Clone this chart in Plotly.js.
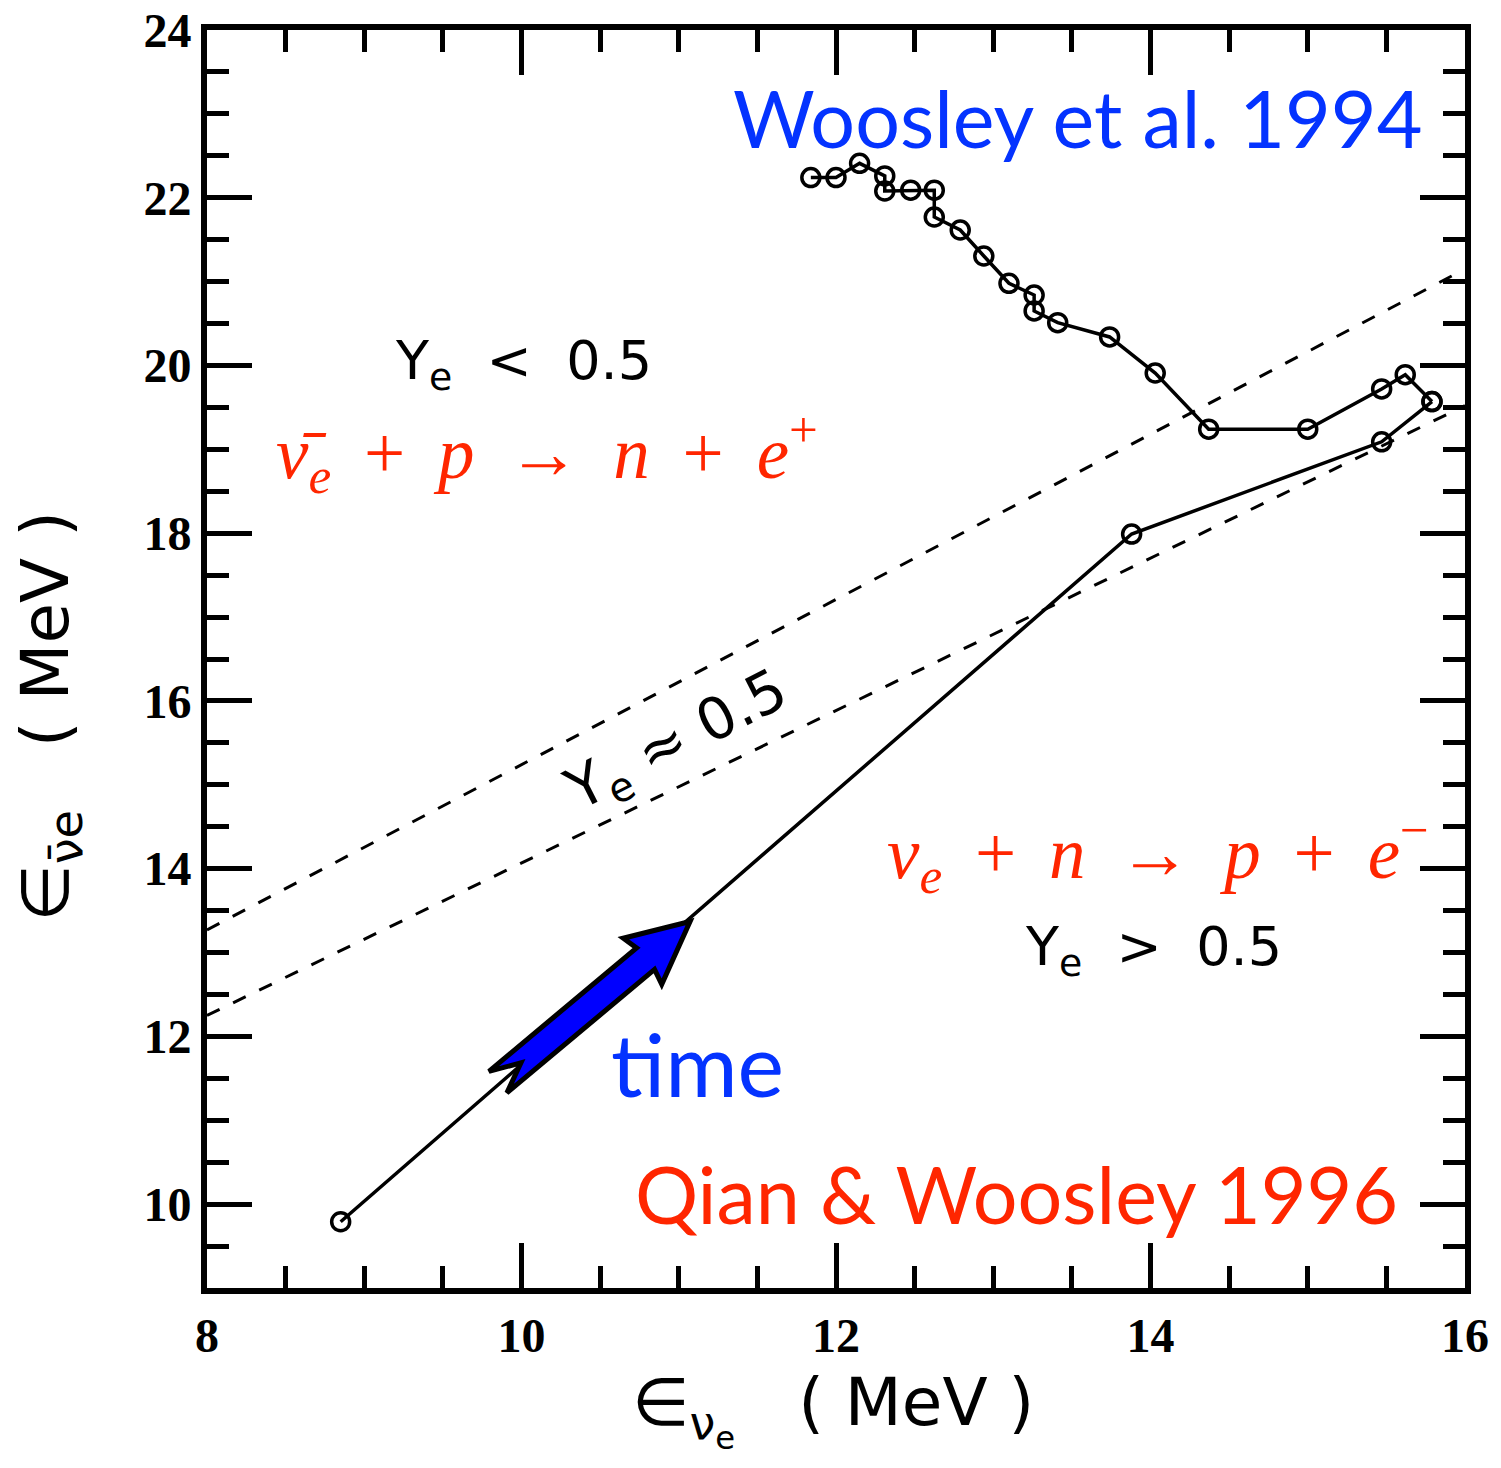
<!DOCTYPE html>
<html>
<head>
<meta charset="utf-8">
<script src="https://cdn.plot.ly/plotly-3.0.1.min.js"></script>
<style>
  html, body { margin: 0; padding: 0; background: #ffffff; }
  #chart { width: 1501px; height: 1468px; }
</style>
</head>
<body>
<div id="chart"></div>
<script>
// Mean electron-neutrino / antineutrino energies (MeV) along each wind trajectory
const woosley94Enu    = [11.84, 12.00, 12.15, 12.31, 12.31, 12.475, 12.625, 12.625, 12.79, 12.94, 13.10, 13.26, 13.26, 13.41, 13.74, 14.03, 14.37, 15.00, 15.47, 15.62, 15.79];
const woosley94Enubar = [22.24, 22.24, 22.41, 22.26, 22.08, 22.09, 22.09, 21.77, 21.615, 21.305, 20.98, 20.84, 20.65, 20.51, 20.34, 19.91, 19.24, 19.24, 19.72, 19.89, 19.57];
const qian96Enu       = [8.85, 13.88, 15.47, 15.79];
const qian96Enubar    = [9.79, 17.99, 19.09, 19.57];

// Edges of the Ye ~ 0.5 band
const bandEnu   = [8, 16];
const bandUpper = [13.27, 21.15];
const bandLower = [12.25, 19.52];

// Axis ticks
const xTickVals = [8, 10, 12, 14, 16];
const yTickVals = [10, 12, 14, 16, 18, 20, 22, 24];

const X_RANGE = [8, 16];
const Y_RANGE = [9, 24];
const W = 1501, H = 1468;
const M = { l: 207, r: 36, t: 30, b: 180 };
const plotW = W - M.l - M.r, plotH = H - M.t - M.b;
const pxPerX = plotW / (X_RANGE[1] - X_RANGE[0]);
const pxPerY = plotH / (Y_RANGE[1] - Y_RANGE[0]);

// Block arrow ("time") between two points given in axis units
function blockArrowPath(from, to) {
  const dx = (to[0] - from[0]) * pxPerX;
  const dy = -(to[1] - from[1]) * pxPerY;
  const L = Math.hypot(dx, dy);
  const ux = dx / L, uy = dy / L;   // along the arrow (screen px)
  const nx = -uy, ny = ux;          // perpendicular
  const pts = [
    [0, -14], [30, 0], [0, 14],
    [L - 58, 14], [L - 62, 30], [L, 0], [L - 62, -30], [L - 58, -14]
  ];
  return pts.map((p, i) => {
    const sx = p[0] * ux + p[1] * nx;
    const sy = p[0] * uy + p[1] * ny;
    const x = from[0] + sx / pxPerX;
    const y = from[1] - sy / pxPerY;
    return (i ? 'L' : 'M') + x.toFixed(4) + ',' + y.toFixed(4);
  }).join(' ') + ' Z';
}
const timeArrowFrom = [9.85, 11.455];
const timeArrowTo   = [11.072, 13.37];

const markerStyle = { symbol: 'circle-open', size: 18, color: '#000', line: { width: 3.5, color: '#000' } };

const traces = [
  { x: bandEnu, y: bandUpper, mode: 'lines', line: { color: '#000', width: 3, dash: '14px,15px' }, hoverinfo: 'skip' },
  { x: bandEnu, y: bandLower, mode: 'lines', line: { color: '#000', width: 3, dash: '14px,15px' }, hoverinfo: 'skip' },
  { x: qian96Enu, y: qian96Enubar, mode: 'lines+markers', line: { color: '#000', width: 3.5 }, marker: markerStyle, name: 'Qian & Woosley 1996' },
  { x: woosley94Enu, y: woosley94Enubar, mode: 'lines+markers', line: { color: '#000', width: 3.5 }, marker: markerStyle, name: 'Woosley et al. 1994' }
];

const axisCommon = {
  showgrid: false, zeroline: false,
  showline: true, linewidth: 6, linecolor: '#000',
  mirror: 'ticks',
  ticks: 'inside', ticklen: 45, tickwidth: 5, tickcolor: '#000',
  minor: { dtick: 0.5, ticks: 'inside', ticklen: 22, tickwidth: 5, tickcolor: '#000' },
  tickfont: { family: 'Liberation Serif', size: 48, weight: 'bold', color: '#000' }
};

const hershey = 'DejaVu Sans';
const mathFont = 'Liberation Serif';
const blue = '#0433ff', red = '#ff2600';
const sp = ' \u2009';   // operator spacing in the reactions

const annotations = [
  { x: 13.54, y: 22.96, text: 'Woosley et al. 1994', font: { family: 'Lato', size: 79, color: blue } },
  { x: 13.145, y: 10.13, text: 'Qian &amp; Woosley 1996', font: { family: 'Lato', size: 79, color: red } },
  { x: 11.122, y: 11.68, text: 'time', font: { family: 'Lato', size: 88, color: blue } },
  { x: 10.01, y: 20.02, text: 'Y<sub>e</sub>  &lt;  0.5', font: { family: hershey, size: 54, color: '#000' } },
  { x: 14.016, y: 13.03, text: 'Y<sub>e</sub>  &gt;  0.5', font: { family: hershey, size: 54, color: '#000' } },
  { x: 10.99, y: 15.50, text: 'Y<sub>e</sub> ≈ 0.5', textangle: -27, font: { family: hershey, size: 58, color: '#000' } },
  { x: 10.162, y: 18.96, text: '<i>ν̄</i><sub><i>e</i></sub>' + sp + '+' + sp + '<i>p</i>' + sp + '→' + sp + '<i>n</i>' + sp + '+' + sp + '<i>e</i><sup>+</sup>', font: { family: mathFont, size: 73, color: red } },
  { x: 14.048, y: 14.19, text: '<i>ν</i><sub><i>e</i></sub>' + sp + '+' + sp + '<i>n</i>' + sp + '→' + sp + '<i>p</i>' + sp + '+' + sp + '<i>e</i><sup>−</sup>', font: { family: mathFont, size: 73, color: red } },
  // axis titles
  { xref: 'paper', yref: 'paper', x: 0.4976, y: -0.097, text: '∈<sub>ν<sub>e</sub></sub>   ( MeV )', font: { family: hershey, size: 66, color: '#000' } },
  { xref: 'paper', yref: 'paper', x: -0.1248, y: 0.454, textangle: -90, text: '∈<sub>ν̄e</sub>   ( MeV )', font: { family: hershey, size: 66, color: '#000' } }
].map(a => Object.assign({ xref: 'x', yref: 'y', showarrow: false, xanchor: 'center', yanchor: 'middle' }, a));

const layout = {
  width: W, height: H,
  margin: M,
  paper_bgcolor: '#fff', plot_bgcolor: '#fff',
  showlegend: false,
  xaxis: Object.assign({}, axisCommon, { range: X_RANGE, tickvals: xTickVals }),
  yaxis: Object.assign({}, axisCommon, { range: Y_RANGE, tickvals: yTickVals }),
  annotations: annotations,
  shapes: [
    { type: 'path', xref: 'x', yref: 'y', layer: 'above', path: blockArrowPath(timeArrowFrom, timeArrowTo),
      fillcolor: '#0000ff', line: { color: '#000', width: 5 } }
  ]
};

Plotly.newPlot('chart', traces, layout, { staticPlot: true });
</script>
</body>
</html>
